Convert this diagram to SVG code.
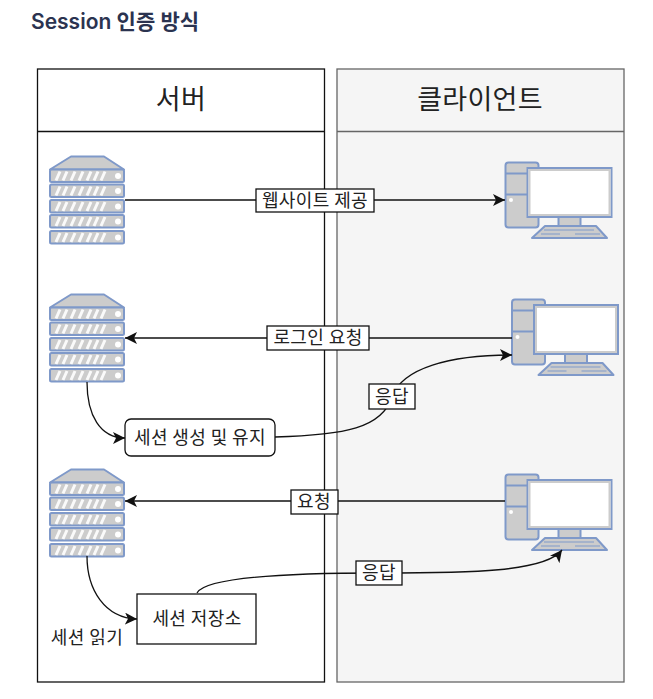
<svg xmlns="http://www.w3.org/2000/svg" width="653" height="699" viewBox="0 0 653 699">
<style>
text{font-family:"Noto Sans CJK KR","Noto Sans",sans-serif;fill:#222;text-anchor:middle}
.lbl{font-size:18px;letter-spacing:.4px}
.hd{font-size:27px;letter-spacing:.3px}
.box{fill:#fff;stroke:#111;stroke-width:1.3}
.edge{fill:none;stroke:#111;stroke-width:1.3}
.arrow{marker-end:url(#a)}
.sym{fill:#ccc;stroke:#7f99c9;stroke-width:2;stroke-linejoin:round}
.st{stroke:#fff;stroke-width:3;fill:none;opacity:.9}
.dot{fill:#fff}
</style>
<defs>
<marker id="a" markerWidth="14" markerHeight="12" refX="12" refY="6" orient="auto" markerUnits="userSpaceOnUse"><path d="M0 0L12 6L0 12L3 6Z" fill="#111"/></marker>
<g id="slab">
<rect class="sym" x="50" y="0" width="74" height="12.500" rx="1.500"/>
<path class="st" d="M56 11L60 2M63 11L67 2M71 11L75 2M79 11L83 2M87 11L91 2M94 11L98 2M101 11L105 2"/>
<circle class="dot" cx="118" cy="6.500" r="3"/>
</g>
<g id="server">
<path class="sym" d="M50 169.500L71 156.500H104L124 169.500Z"/>
<use href="#slab" y="169.500"/><use href="#slab" y="184.500"/><use href="#slab" y="200"/><use href="#slab" y="215"/><use href="#slab" y="231"/>
</g>
<g id="pc">
<rect class="sym" x="505.500" y="162.500" width="33" height="65" rx="3"/>
<path class="sym" d="M505.500 173.500H538M505.500 194.500H538"/>
<circle class="dot" cx="511" cy="200" r="2"/>
<rect x="527.500" y="168" width="84" height="49" fill="#fff" stroke="#7f99c9" stroke-width="2"/>
<rect x="529.500" y="170" width="80" height="45" fill="none" stroke="#ccc" stroke-width="2"/>
<rect class="sym" x="558.500" y="217" width="22" height="9"/>
<path class="sym" d="M545 226H596L607 238H532Z"/>
<path d="M544 230H594M541 234H560M575 234H600" stroke="#7f99c9" stroke-width="1.200" fill="none"/>
</g>
</defs>
<rect width="653" height="699" fill="#fff"/>
<text id="title" x="31" y="29" style="text-anchor:start;font-size:21px;font-weight:600;fill:#2b3350;font-family:'Inter','Noto Sans CJK KR',sans-serif">Session 인증 방식</text>
<g id="lane-server">
<rect x="37.500" y="69" width="287" height="613" fill="#fff" stroke="#111" stroke-width="1.300"/>
<path d="M37.500 131.500H324.500" stroke="#111" stroke-width="1.300"/>
<text class="hd" x="181" y="109">서버</text>
</g>
<g id="lane-client">
<rect x="337" y="69" width="287" height="613" fill="#f5f5f5" stroke="#666" stroke-width="1.300"/>
<path d="M337 131.500H624" stroke="#666" stroke-width="1.300"/>
<text class="hd" x="480" y="109">클라이언트</text>
</g>
<g id="server-1"><use href="#server"/></g>
<g id="server-2"><use href="#server" y="138"/></g>
<g id="server-3"><use href="#server" y="313"/></g>
<g id="client-1"><use href="#pc"/></g>
<g id="client-2"><use href="#pc" x="6.500" y="137"/></g>
<g id="client-3"><use href="#pc" y="312"/></g>
<g id="connectors">
<path class="edge arrow" d="M125 200H505"/>
<path class="edge arrow" d="M512 338H125"/>
<path class="edge arrow" d="M505 501H125"/>
<path class="edge arrow" d="M87 382C87 415 100 438 125 438"/>
<path class="edge arrow" d="M275 437C345 435 382 428 392 397C402 368 450 355 512 355"/>
<path class="edge arrow" d="M87 556C87 590 105 618 137 619"/>
<path class="edge arrow" d="M197 593C205 578 280 573 380 573C470 573 545 572 562 550"/>
</g>
<g id="edge-labels">
<rect class="box" x="256" y="189" width="118" height="23"/><text class="lbl" x="315" y="207">웹사이트 제공</text>
<rect class="box" x="267" y="326" width="102" height="24"/><text class="lbl" x="318" y="344">로그인 요청</text>
<rect class="box" x="369" y="384" width="46" height="25"/><text class="lbl" x="392" y="403">응답</text>
<rect class="box" x="291" y="490" width="47" height="24"/><text class="lbl" x="314" y="508">요청</text>
<rect class="box" x="356" y="561" width="46" height="24"/><text class="lbl" x="379" y="579">응답</text>
</g>
<g id="session-create">
<rect class="box" x="125" y="419" width="150" height="37" rx="6"/>
<text class="lbl" x="200" y="444">세션 생성 및 유지</text>
</g>
<g id="session-store">
<rect class="box" x="137" y="594" width="119" height="50"/>
<text class="lbl" x="197" y="625">세션 저장소</text>
</g>
<text id="session-read" class="lbl" x="87" y="644">세션 읽기</text>
</svg>
